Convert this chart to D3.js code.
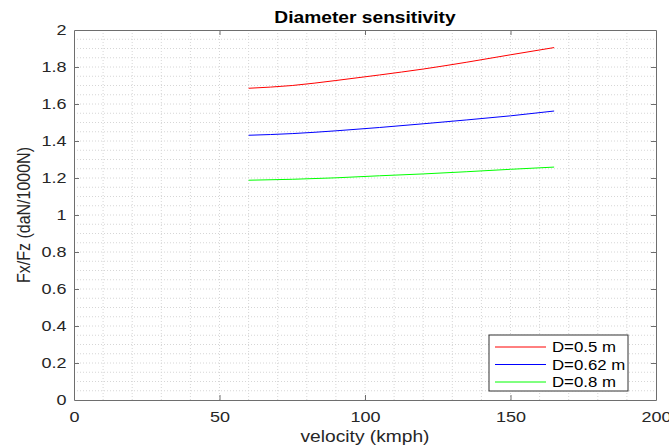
<!DOCTYPE html>
<html>
<head>
<meta charset="utf-8">
<script src="https://cdn.jsdelivr.net/npm/d3@7"></script>
<style>
  html, body { margin: 0; padding: 0; background: #fff; }
  svg { display: block; font-family: "Liberation Sans", Arial, sans-serif; }
</style>
</head>
<body>
<svg id="chart" width="669" height="448"></svg>
<script>
// Velocity samples (kmph)
const velocity = [60, 75, 90, 105, 120, 135, 150, 165];
// Fx/Fz for each wheel diameter
const seriesNames = ["D=0.5 m", "D=0.62 m", "D=0.8 m"];
const seriesColors = ["#ff0000", "#0000ff", "#00ff00"];
const d050 = [1.685, 1.700, 1.727, 1.757, 1.789, 1.826, 1.866, 1.905];
const d062 = [1.431, 1.440, 1.455, 1.473, 1.493, 1.514, 1.536, 1.562];
const d080 = [1.188, 1.193, 1.201, 1.212, 1.222, 1.234, 1.247, 1.259];
const seriesValues = [d050, d062, d080];
// Axis ticks
const xTicks = [0, 50, 100, 150, 200];
const yTicks = [0, 0.2, 0.4, 0.6, 0.8, 1, 1.2, 1.4, 1.6, 1.8, 2];

const svg = d3.select("#chart");
const m = { left: 74, right: 13, top: 30, bottom: 48 };
const W = 669, H = 448;
const x = d3.scaleLinear().domain([0, 200]).range([m.left, W - m.right]);
const y = d3.scaleLinear().domain([0, 2]).range([H - m.bottom, m.top]);

const axisColor = "#6e6e6e";
const textColor = "#262626";
const SX = 1.2; // horizontal glyph stretch

// Dotted grid
const gridG = svg.append("g");
d3.range(10, 200, 10).forEach(v => {
  gridG.append("line")
    .attr("x1", x(v)).attr("x2", x(v))
    .attr("y1", y(0)).attr("y2", y(2))
    .attr("stroke", "#d6d6d6").attr("stroke-width", 1)
    .attr("stroke-dasharray", "1,2");
});
d3.range(1, 40).forEach(i => {
  const v = i * 0.05;
  gridG.append("line")
    .attr("x1", x(0)).attr("x2", x(200))
    .attr("y1", y(v)).attr("y2", y(v))
    .attr("stroke", "#d6d6d6").attr("stroke-width", 1)
    .attr("stroke-dasharray", "1,2");
});

// Series
const line = d3.line().x(d => x(d[0])).y(d => y(d[1])).curve(d3.curveMonotoneX);
seriesValues.forEach((vals, i) => {
  svg.append("path")
    .datum(velocity.map((v, j) => [v, vals[j]]))
    .attr("d", line)
    .attr("fill", "none")
    .attr("stroke", seriesColors[i])
    .attr("stroke-width", 1);
});

// Axes (box with ticks on all four sides)
function styleAxis(g) {
  g.select(".domain").attr("stroke", axisColor);
  g.selectAll(".tick line").attr("stroke", axisColor);
  g.selectAll(".tick text").attr("fill", textColor).attr("font-size", 15)
    .attr("transform", `scale(${SX},1)`);
}
const xAxis = svg.append("g")
  .attr("transform", `translate(0,${y(0)})`)
  .call(d3.axisBottom(x).tickValues(xTicks).tickSize(-5).tickSizeOuter(0).tickPadding(11).tickFormat(d3.format("d")));
styleAxis(xAxis);
const xAxisTop = svg.append("g")
  .attr("transform", `translate(0,${y(2)})`)
  .call(d3.axisTop(x).tickValues(xTicks).tickSize(-5).tickSizeOuter(0).tickFormat(""));
styleAxis(xAxisTop);
const yAxis = svg.append("g")
  .attr("transform", `translate(${x(0)},0)`)
  .call(d3.axisLeft(y).tickValues(yTicks).tickSize(-5).tickSizeOuter(0).tickPadding(6.3).tickFormat(d => String(+d.toFixed(1))));
styleAxis(yAxis);
const yAxisRight = svg.append("g")
  .attr("transform", `translate(${x(200)},0)`)
  .call(d3.axisRight(y).tickValues(yTicks).tickSize(-5).tickSizeOuter(0).tickFormat(""));
styleAxis(yAxisRight);
[xAxis, xAxisTop, yAxis, yAxisRight].forEach(g =>
  g.selectAll(".tick").filter(d => d === 0 || d === 200 || d === 2).select("line").remove());

// Title and axis labels
svg.append("text")
  .attr("transform", `translate(${(x(0) + x(200)) / 2},23) scale(${SX},1)`)
  .attr("text-anchor", "middle")
  .attr("font-size", 16).attr("font-weight", "bold")
  .attr("fill", "#000")
  .text("Diameter sensitivity");
svg.append("text")
  .attr("transform", `translate(${(x(0) + x(200)) / 2},442) scale(${SX},1)`)
  .attr("text-anchor", "middle")
  .attr("font-size", 16).attr("fill", textColor)
  .text("velocity (kmph)");
svg.append("text")
  .attr("transform", `translate(30,${(y(0) + y(2)) / 2}) scale(${SX},1) rotate(-90)`)
  .attr("text-anchor", "middle")
  .attr("font-size", 16).attr("fill", textColor)
  .text("Fx/Fz (daN/1000N)");

// Legend
const lg = svg.append("g").attr("transform", "translate(489,335)");
lg.append("rect")
  .attr("width", 139).attr("height", 56)
  .attr("fill", "#fff").attr("stroke", "#333").attr("stroke-width", 1);
seriesNames.forEach((name, i) => {
  const ry = 12 + i * 17.5;
  lg.append("line")
    .attr("x1", 6).attr("x2", 57).attr("y1", ry).attr("y2", ry)
    .attr("stroke", seriesColors[i]).attr("stroke-width", 1);
  lg.append("text")
    .attr("transform", `translate(63,${ry + 5}) scale(${SX},1)`)
    .attr("font-size", 14).attr("fill", "#000")
    .text(name);
});
</script>
</body>
</html>
